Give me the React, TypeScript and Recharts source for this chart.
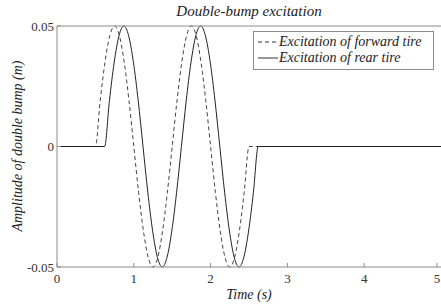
import React from "react";
import { LineChart, Line, XAxis, YAxis } from "recharts";

// time offsets inside one double bump (s) and the amplitude read at each (m)
const bumpOffset = [
  0, 0.0625, 0.125, 0.1875, 0.25, 0.3125, 0.375, 0.4375, 0.5, 0.5625, 0.625,
  0.6875, 0.75, 0.8125, 0.875, 0.9375, 1.0, 1.0625, 1.125, 1.1875, 1.25,
  1.3125, 1.375, 1.4375, 1.5, 1.5625, 1.625, 1.6875, 1.75, 1.8125, 1.875,
  1.9375, 2.0,
];
const bumpAmp = [
  0, 0.019, 0.035, 0.046, 0.05, 0.046, 0.035, 0.019, 0, -0.019, -0.035,
  -0.046, -0.05, -0.046, -0.035, -0.019, 0, 0.019, 0.035, 0.046, 0.05, 0.046,
  0.035, 0.019, 0, -0.019, -0.035, -0.046, -0.05, -0.046, -0.035, -0.019, 0,
];
const forwardStart = 0.5;
const rearStart = 0.62;
const timeRange = [0, 5];
const xTicks = [0, 1, 2, 3, 4, 5];
const yTicks = [-0.05, 0, 0.05];
const yTickLabels = ["-0.05", "0", "0.05"];

const seriesNames = ["Excitation of forward tire", "Excitation of rear tire"];

const buildSeries = (start: number) => [
  { t: timeRange[0], y: 0 },
  ...bumpOffset.map((o, i) => ({ t: start + o, y: bumpAmp[i] })),
  { t: timeRange[1], y: 0 },
];

const forwardData = buildSeries(forwardStart);
const rearData = buildSeries(rearStart);

const FONT = '"Liberation Serif", "DejaVu Serif", serif';
const AXIS = "#8c8c8c";
const TEXT = "#333";

const BottomTick = (props: any) => {
  const { x, y, payload } = props;
  return (
    <g>
      <line x1={x} y1={y} x2={x} y2={y - 4} stroke={AXIS} />
      <text x={x} y={y + 16} textAnchor="middle" fontSize={13} fontFamily={FONT} fill={TEXT}>
        {payload.value}
      </text>
    </g>
  );
};

const TopTick = (props: any) => {
  const { x, y } = props;
  return <line x1={x} y1={y} x2={x} y2={y + 4} stroke={AXIS} />;
};

const LeftTick = (props: any) => {
  const { x, y, payload, index } = props;
  return (
    <g>
      <line x1={x} y1={y} x2={x + 4} y2={y} stroke={AXIS} />
      <text x={x - 3} y={y + 4.5} textAnchor="end" fontSize={13} fontFamily={FONT} fill={TEXT}>
        {yTickLabels[index] ?? payload.value}
      </text>
    </g>
  );
};

const LegendBox = () => (
  <div
    style={{
      position: "absolute",
      top: 31,
      left: 253,
      width: 171,
      border: `1px solid ${AXIS}`,
      background: "#fff",
      padding: "2px 4px 3px 4px",
      fontFamily: FONT,
      fontStyle: "italic",
      fontSize: 14,
      color: "#222",
      lineHeight: "16px",
    }}
  >
    {seriesNames.map((name, i) => (
      <div key={name} style={{ display: "flex", alignItems: "center" }}>
        <svg width={20} height={10} style={{ marginRight: 1 }}>
          <line
            x1={0}
            y1={5}
            x2={20}
            y2={5}
            stroke="#333"
            strokeDasharray={i === 0 ? "4 3" : undefined}
          />
        </svg>
        <span>{name}</span>
      </div>
    ))}
  </div>
);

const labelStyle: React.CSSProperties = {
  position: "absolute",
  fontFamily: FONT,
  fontStyle: "italic",
  fontSize: 14,
  color: "#222",
  whiteSpace: "nowrap",
};

export default function App() {
  return (
    <div style={{ position: "relative", width: 441, height: 307, background: "#fff" }}>
      <style>{`body{margin:0}`}</style>
      <LineChart
        width={441}
        height={307}
        margin={{ top: 0, right: 0, bottom: 0, left: 0 }}
      >
        <XAxis
          dataKey="t"
          type="number"
          domain={timeRange}
          ticks={xTicks}
          allowDuplicatedCategory={false}
          height={40}
          stroke={AXIS}
          tickSize={0}
          tickMargin={0}
          tick={<BottomTick />}
        />
        <XAxis
          xAxisId="top"
          orientation="top"
          dataKey="t"
          type="number"
          domain={timeRange}
          ticks={xTicks}
          height={26}
          stroke={AXIS}
          tickSize={0}
          tickMargin={0}
          tick={<TopTick />}
        />
        <YAxis
          type="number"
          domain={[-0.05, 0.05]}
          ticks={yTicks}
          width={57}
          stroke={AXIS}
          tickSize={0}
          tickMargin={0}
          tick={<LeftTick />}
        />
        <Line
          data={forwardData}
          dataKey="y"
          name={seriesNames[0]}
          type="monotone"
          stroke="#444"
          strokeWidth={1}
          strokeDasharray="4 3"
          dot={false}
          isAnimationActive={false}
        />
        <Line
          data={rearData}
          dataKey="y"
          name={seriesNames[1]}
          type="monotone"
          stroke="#222"
          strokeWidth={1}
          dot={false}
          isAnimationActive={false}
        />
      </LineChart>
      <LegendBox />
      <div style={{ ...labelStyle, top: 3, left: 57, width: 384, textAlign: "center", fontSize: 15 }}>
        Double-bump excitation
      </div>
      <div style={{ ...labelStyle, top: 287, left: 57, width: 384, textAlign: "center" }}>
        Time (s)
      </div>
      <div
        style={{
          ...labelStyle,
          left: 18,
          top: 146,
          transform: "translate(-50%, -50%) rotate(-90deg)",
        }}
      >
        Amplitude of double bump (m)
      </div>
    </div>
  );
}
